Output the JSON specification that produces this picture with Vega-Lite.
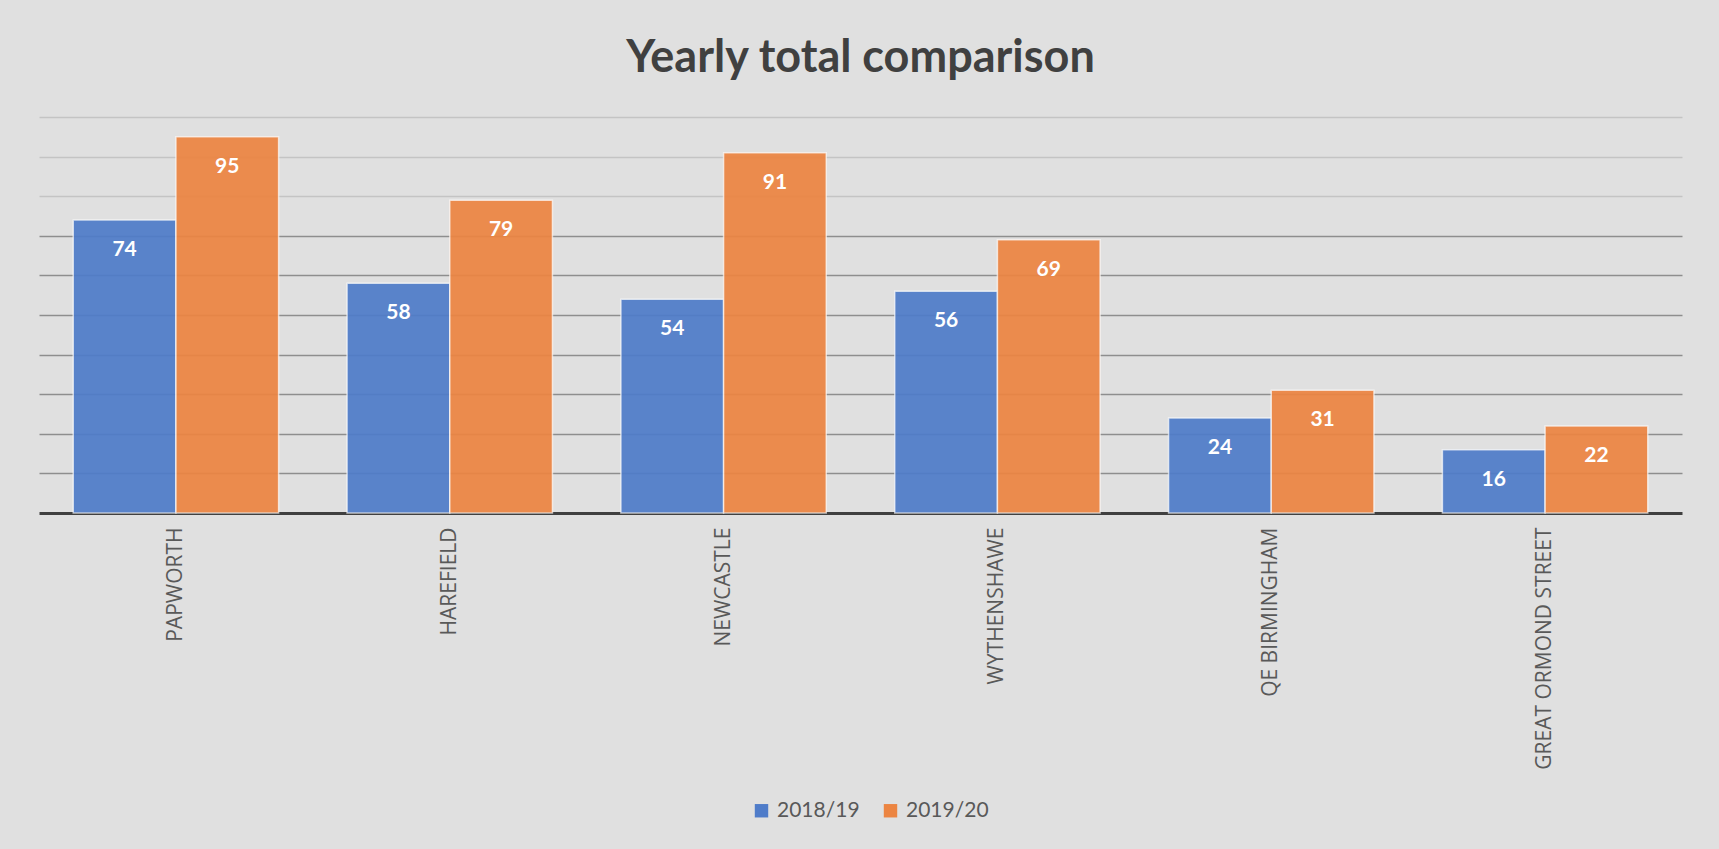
{
  "$schema": "https://vega.github.io/schema/vega-lite/v6.json",
  "width": 1643,
  "height": 396,
  "autosize": {"type": "none"},
  "padding": {"left": 39, "top": 117, "right": 37, "bottom": 336},
  "background": "#e0e0e0",
  "title": {
    "text": "Yearly total comparison",
    "font": "Lato",
    "fontSize": 45,
    "fontWeight": "bold",
    "color": "#404040",
    "offset": 36,
    "anchor": "middle"
  },
  "data": {
    "values": [
      {"hospital": "PAPWORTH", "year": "2018/19", "total": 74},
      {"hospital": "PAPWORTH", "year": "2019/20", "total": 95},
      {"hospital": "HAREFIELD", "year": "2018/19", "total": 58},
      {"hospital": "HAREFIELD", "year": "2019/20", "total": 79},
      {"hospital": "NEWCASTLE", "year": "2018/19", "total": 54},
      {"hospital": "NEWCASTLE", "year": "2019/20", "total": 91},
      {"hospital": "WYTHENSHAWE", "year": "2018/19", "total": 56},
      {"hospital": "WYTHENSHAWE", "year": "2019/20", "total": 69},
      {"hospital": "QE BIRMINGHAM", "year": "2018/19", "total": 24},
      {"hospital": "QE BIRMINGHAM", "year": "2019/20", "total": 31},
      {"hospital": "GREAT ORMOND STREET", "year": "2018/19", "total": 16},
      {"hospital": "GREAT ORMOND STREET", "year": "2019/20", "total": 22}
    ]
  },
  "encoding": {
    "x": {
      "field": "hospital",
      "type": "nominal",
      "sort": null,
      "scale": {"paddingInner": 0.25, "paddingOuter": 0.125},
      "axis": {
        "title": null,
        "ticks": false,
        "grid": false,
        "labelAngle": -90,
        "labelFont": "Open Sans",
        "labelFontSize": 21,
        "labelColor": "#595959",
        "labelPadding": 14,
        "labelLimit": 0,
        "domainColor": "#404040",
        "domainWidth": 3
      }
    },
    "xOffset": {
      "field": "year",
      "type": "nominal",
      "scale": {"paddingInner": 0, "paddingOuter": 0}
    },
    "y": {
      "field": "total",
      "type": "quantitative",
      "scale": {"domain": [0, 100]},
      "axis": {
        "title": null,
        "values": [10, 20, 30, 40, 50, 60, 70, 80, 90, 100],
        "labels": false,
        "ticks": false,
        "domain": false,
        "grid": true,
        "gridWidth": 1.5,
        "gridColor": {"condition": {"test": "datum.value >= 80", "value": "#c4c4c4"}, "value": "#8e8e8e"}
      }
    }
  },
  "layer": [
    {
      "mark": {"type": "bar", "opacity": 0.93, "stroke": "#ffffff", "strokeWidth": 1.5, "strokeOpacity": 0.7},
      "encoding": {
        "color": {
          "field": "year",
          "type": "nominal",
          "scale": {"domain": ["2018/19", "2019/20"], "range": ["#4f7cc9", "#ec8542"]},
          "legend": {
            "title": null,
            "orient": "none",
            "legendX": 712,
            "legendY": 683,
            "direction": "horizontal",
            "symbolType": "square",
            "symbolSize": 180,
            "symbolStrokeWidth": 0,
            "symbolOpacity": 1,
            "labelFont": "Lato",
            "labelFontSize": 21,
            "labelColor": "#595959",
            "columnPadding": 20,
            "labelOffset": 5
          }
        }
      }
    },
    {
      "mark": {"type": "text", "font": "Lato", "fontSize": 21, "fontWeight": "bold", "color": "#ffffff", "baseline": "middle", "dy": 30},
      "encoding": {"text": {"field": "total", "type": "quantitative"}}
    }
  ],
  "config": {"view": {"stroke": null}}
}
